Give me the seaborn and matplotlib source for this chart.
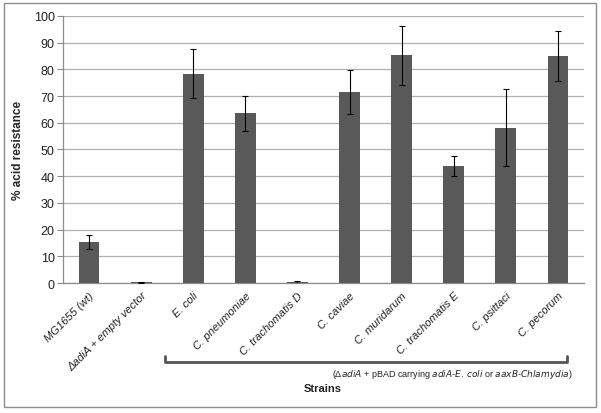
import matplotlib
matplotlib.use("Agg")
import matplotlib.pyplot as plt
import matplotlib.transforms as mtransforms
from matplotlib.patches import Rectangle
import seaborn as sns
import pandas as pd
import numpy as np

strains = ["MG1655 (wt)", "ΔadiA + empty vector", "E. coli", "C. pneumoniae",
           "C. trachomatis D", "C. caviae", "C. muridarum", "C. trachomatis E",
           "C. psittaci", "C. pecorum"]
values = [15.4, 0.3, 78.3, 63.6, 0.3, 71.6, 85.3, 43.9, 58.1, 85.1]
errors = [2.6, 0.2, 9.2, 6.6, 0.6, 8.2, 11.0, 3.8, 14.4, 9.4]
yticks = [0, 10, 20, 30, 40, 50, 60, 70, 80, 90, 100]

df = pd.DataFrame({"strain": strains, "value": values, "err": errors})

sns.set_style("white")
plt.rcParams['font.family'] = ['Liberation Sans', 'DejaVu Sans']

fig = plt.figure(figsize=(6.01, 4.14), dpi=100)
ax = fig.add_axes([0.1048, 0.314, 0.867, 0.645])

sns.barplot(data=df, x="strain", y="value", color="#595959", width=0.4,
            saturation=1, ax=ax, errorbar=None, zorder=3)
for p in ax.patches:
    p.set_edgecolor("none")
ax.errorbar(np.arange(len(strains)), df["value"], yerr=df["err"], fmt="none",
            ecolor="black", elinewidth=0.8, capsize=2.5, capthick=0.8, zorder=4)

ax.set_ylim(0, 100)
ax.set_xlim(-0.5, len(strains) - 0.5)
ax.set_yticks(yticks)
ax.set_yticklabels([str(t) for t in yticks], fontsize=9, color="#222222")
ax.yaxis.grid(True, color="#b0b0b0", linewidth=0.9, zorder=0)
ax.set_axisbelow(True)
for s in ["top", "right"]:
    ax.spines[s].set_visible(False)
for s in ["left", "bottom"]:
    ax.spines[s].set_color("#8c8c8c")
    ax.spines[s].set_linewidth(0.9)

ax.set_xticks(np.arange(len(strains)))
ax.set_xticklabels(strains, rotation=45, ha="right", rotation_mode="anchor",
                   fontsize=8, style="italic", color="#222222")
ax.tick_params(axis="x", length=0, pad=5)
ax.set_xticks(np.arange(-0.5, len(strains)), minor=True)
ax.tick_params(axis="x", which="minor", length=4, color="#8c8c8c", direction="out")
ax.tick_params(axis="y", length=4, color="#8c8c8c", direction="out", left=True, pad=2)

ax.set_xlabel("")
ax.set_ylabel("% acid resistance", fontsize=8.5, fontweight="bold", labelpad=7)

# bracket
trans = mtransforms.blended_transform_factory(ax.transData, fig.transFigure)
x0, x1 = 1.46, 9.17
yb = 1 - 363 / 414
yt = 1 - 357 / 414
ax.plot([x0, x0, x1, x1], [yt, yb, yb, yt], transform=trans, color="#555555",
        linewidth=2.0, clip_on=False, solid_joinstyle="round", solid_capstyle="round")

fig.text(452 / 601, 1 - 375 / 414,
         "(Δ$\\it{adiA}$ + pBAD carrying $\\it{adiA}$-$\\it{E.\\,coli}$ or $\\it{aaxB}$-$\\it{Chlamydia}$)",
         ha="center", va="center", fontsize=6.5, color="#222222")
fig.text(323 / 601, 1 - 389 / 414, "Strains", ha="center", va="center",
         fontsize=8, fontweight="bold", color="#222222")

# outer frame
fig.patches.append(Rectangle((4 / 601, 1 - 408 / 414), 592 / 601, 404 / 414,
                             transform=fig.transFigure, fill=False,
                             edgecolor="#8c8c8c", linewidth=1.0))

fig.savefig("out.png", dpi=100)
